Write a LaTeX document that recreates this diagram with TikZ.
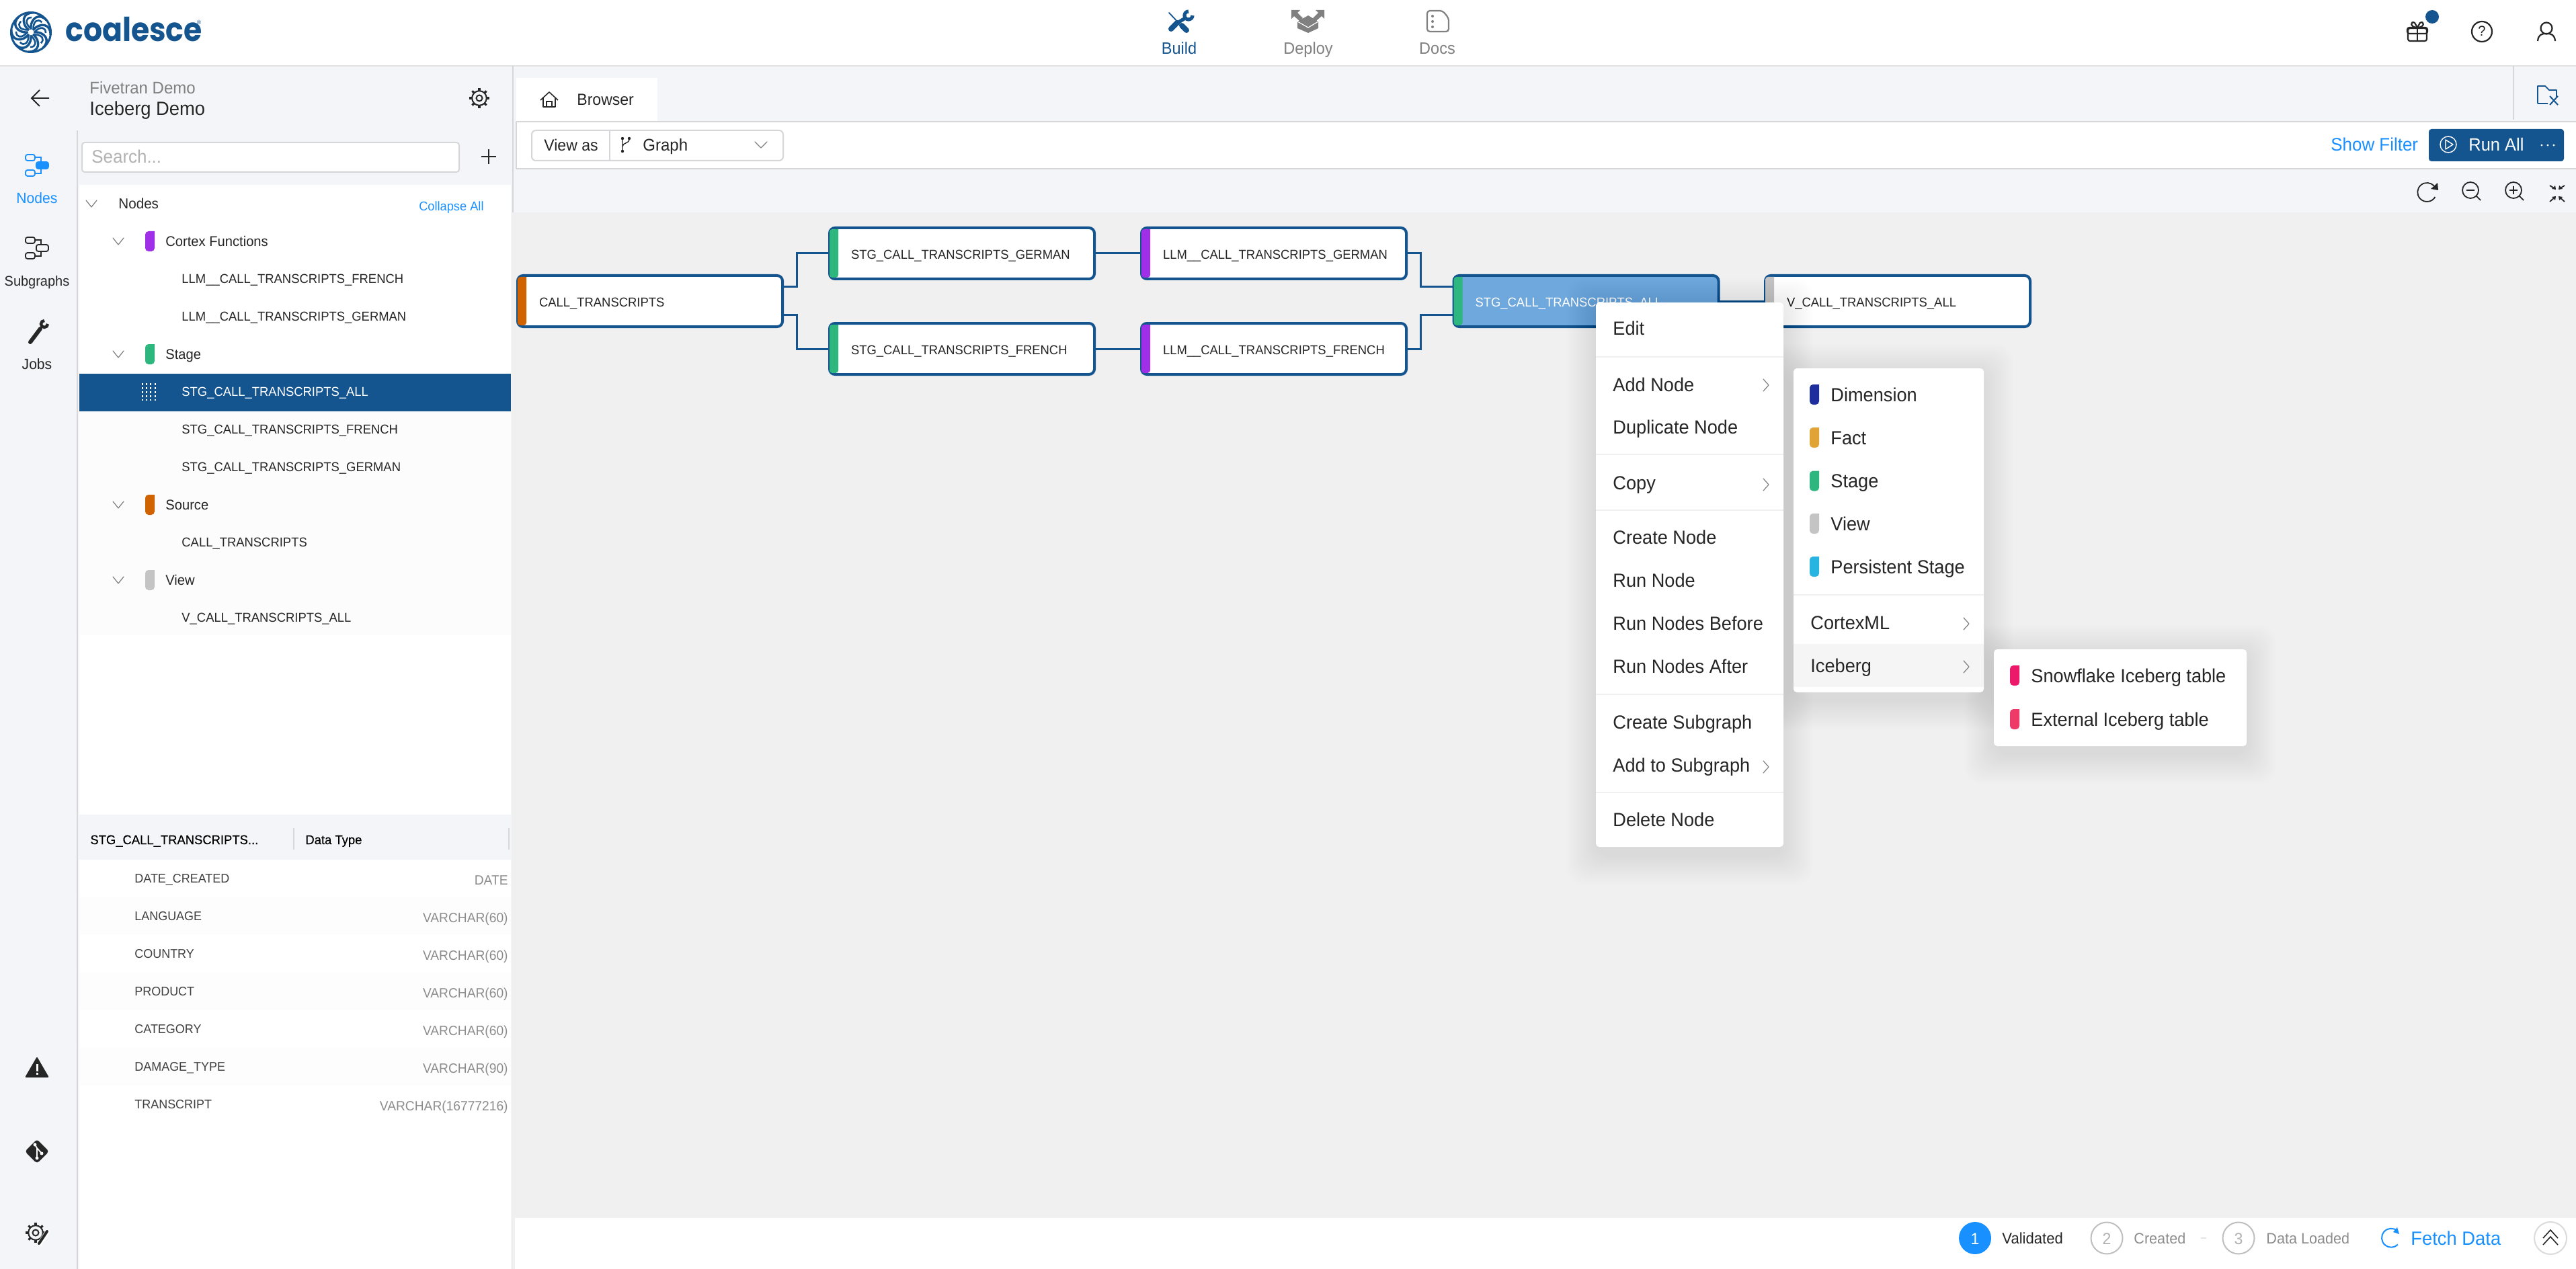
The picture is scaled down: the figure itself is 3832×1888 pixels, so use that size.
\documentclass[tikz,border=0pt]{standalone}
\usepackage{fontspec}
\setmainfont[FakeStretch=0.96]{Liberation Sans}
\newfontfamily\logofont[FakeStretch=0.9]{Poppins}
\usetikzlibrary{calc}
\definecolor{cblue}{HTML}{14548F}
\definecolor{lblue}{HTML}{1890FF}
\definecolor{panel}{HTML}{F4F5F9}
\definecolor{canvas}{HTML}{F0F0F0}
\definecolor{ink}{HTML}{262626}
\definecolor{midgray}{HTML}{808080}
\definecolor{typegray}{HTML}{8C8C8C}
\definecolor{rule}{HTML}{D6D6D8}
\definecolor{cgreen}{HTML}{2DB67D}
\definecolor{cpurple}{HTML}{A030E8}
\definecolor{corange}{HTML}{D16200}
\definecolor{cview}{HTML}{C4C4C4}
\definecolor{cdim}{HTML}{1E2F9D}
\definecolor{cfact}{HTML}{DFA435}
\definecolor{cpers}{HTML}{28B4E0}
\definecolor{csnow}{HTML}{EC1869}
\definecolor{cext}{HTML}{EE3A68}
\definecolor{selnode}{HTML}{6FA8DC}
\tikzset{
  gnode/.style={draw=cblue,line width=2pt,rounded corners=4pt,fill=white,outer sep=0pt,
    minimum width=197pt,minimum height=38pt,inner xsep=16pt,inner ysep=0pt,text width=165pt,align=left,
    text height=8.4pt,text depth=0pt,
    font=\fontsize{9.6}{11}\selectfont,text=ink},
  wire/.style={draw=cblue,line width=1.5pt},
  icon/.style={draw=ink,line width=1.1pt,line cap=round,line join=round,fill=none},
  chev/.style={draw=midgray,line width=.6pt,line cap=round,line join=round},
  sepline/.style={draw=canvas,line width=1.2pt},
  menu/.style={fill=white,rounded corners=2.5pt},
}
% anchor, name, x, y(mid cap), size px, colour, text
\newcommand\tx[7]{%
  \pgfmathsetmacro\fsz{#5/2}%
  \pgfmathsetmacro\ybase{#4+0.358*#5+2}%
  \node[anchor=#1,inner sep=0pt,text=#6,font=\fontsize{\fsz}{\fsz}\selectfont] (#2) at (#3,\ybase) {#7};}
\newcommand\tl[6]{\tx{base west}{#1}{#2}{#3}{#4}{#5}{#6}}
\newcommand\tc[6]{\tx{base}{#1}{#2}{#3}{#4}{#5}{#6}}
\newcommand\tr[6]{\tx{base east}{#1}{#2}{#3}{#4}{#5}{#6}}
% left rounded colour bar: colour, x, y centre, half height
\newcommand\sbar[4]{\fill[#1,rounded corners=2.5pt] ({#2+14},{#3-#4}) -- (#2,{#3-#4}) -- (#2,{#3+#4}) -- ({#2+14},{#3+#4}) [sharp corners] -- cycle;}
\newcommand\downchev[2]{\draw[chev] ({#1-8},{#2-5}) -- (#1,{#2+5}) -- ({#1+8},{#2-5});}
\newcommand\rightchev[2]{\draw[chev] ({#1-4},{#2-9}) -- ({#1+4},#2) -- ({#1-4},{#2+9});}
\newcommand\softshadow[4]{\foreach \d in {2,4,...,44}{\fill[black,opacity=.0035,rounded corners=12pt] ({#1-\d},{#2-\d+8}) rectangle ({#3+\d},{#4+\d+12});}}
\newcommand\hier[4]{%
  \begin{scope}[shift={(#1,#2)}]
  \draw[#3,line width=.9pt,rounded corners=1.5pt] (-17,-16) rectangle (-3,-7);
  \draw[#3,line width=.9pt,rounded corners=1.5pt] (-17,7) rectangle (-3,16);
  \draw[#3,line width=.9pt,rounded corners=1.5pt,fill=#4] (-1,-5) rectangle (17,5);
  \draw[#3,line width=.9pt] (-3,-12) -- (6,-12) -- (6,-5) (-3,12) -- (6,12) -- (6,5);
  \end{scope}}
\newcommand\gearicon[4]{%
  \foreach \a in {0,45,...,315}{\draw[#4,line width=1.6pt] ($(#1,#2)+(\a:#3)$) -- ($(#1,#2)+(\a:{#3*.72})$);}
  \draw[#4,line width=1pt] (#1,#2) circle[radius={#3*.72}];
  \draw[#4,line width=1pt] (#1,#2) circle[radius={#3*.3}];}
\begin{document}
\begin{tikzpicture}[x=.5pt,y=-.5pt]
\useasboundingbox (0,0) rectangle (3832,1888);
% --- backgrounds
\fill[panel] (0,0) rectangle (3832,1888);
\fill[white] (0,0) rectangle (3832,98);
\draw[rule!70,line width=1pt] (0,98.5) -- (3832,98.5);
\fill[canvas] (761,316) rectangle (3832,1812);
\fill[white] (766,1812) rectangle (3832,1888);
\fill[canvas] (761,1812) rectangle (766,1888);
\fill[panel] (766,100) rectangle (3832,180);
\fill[white] (768,181) rectangle (3832,250);
\draw[rule,line width=1pt] (768,181) -- (3832,181);
\draw[rule,line width=1pt] (768,251) -- (3832,251);
\draw[rule,line width=1pt] (768,181) -- (768,251);
\fill[panel] (768,252) rectangle (3832,316);
\draw[rule,line width=1pt] (763,98) -- (763,316);
\draw[rule,line width=1pt] (3739,98) -- (3739,178);
\draw[rule,line width=1pt] (115,194) -- (115,1888);
% --- left panel whites
\fill[white] (118,275) rectangle (760,1888);
\fill[black!1] (118,612) rectangle (760,945);
\fill[panel] (118,1212) rectangle (760,1279);
\foreach \ya in {1335,1447,1559}{\fill[black!.7] (118,\ya) rectangle (760,{\ya+56});}
\fill[cblue] (118,556) rectangle (760,612);
% --- header
\begin{scope}[shift={(46,48)}]
  \draw[cblue,line width=1.5pt] (0,0) circle[radius=29.5];
  \foreach \a in {0,45,...,315}{
    \draw[cblue,line width=1.7pt,rotate=\a] (3,-3) .. controls (14,-16) and (30,-12) .. (29,4);
    \draw[cblue,line width=1.3pt,rotate=\a] (6,-1) .. controls (14,-9) and (22,-8) .. (22,1);
  }
\end{scope}
\node[anchor=base west,inner sep=0pt,text=cblue,font=\logofont\fontsize{24.5}{24.5}\selectfont\bfseries] (logotext) at (97,62) {coalesce};
\tc{regmark}{296}{31}{9}{cblue}{®}
% nav
\draw[cblue,line width=.9pt,line cap=round] (1739,19) -- (1756,37);
\draw[cblue,line width=4pt,line cap=round] (1758,38) -- (1765,45);
\draw[cblue,line width=4pt,line cap=round] (1742,43) -- (1751,34);
\draw[cblue,line width=2.6pt] (1750,35) -- (1763,27);
\draw[cblue,line width=2.6pt] (1774,23) arc[start angle=0,end angle=270,radius=6];
\tc{nbuild}{1754}{70}{24.5}{cblue}{Build}
\fill[midgray] (1946,23) -- (1961,32) -- (1961,42) -- (1946,49) -- (1930,42) -- (1930,32) -- cycle;
\draw[white,line width=.6pt] (1930,32) -- (1946,41) -- (1961,32);
\fill[midgray] (1921,15) -- (1934,15) -- (1930,19) -- (1938,27) -- (1933,31) -- (1925,24) -- (1921,28) -- cycle;
\fill[midgray] (1970,15) -- (1957,15) -- (1961,19) -- (1953,27) -- (1958,31) -- (1966,24) -- (1970,28) -- cycle;
\tc{ndeploy}{1946}{70}{24.5}{midgray}{Deploy}
\draw[midgray,line width=1.1pt,rounded corners=2pt] (2123,16) -- (2146,16) -- (2155,27) -- (2155,47) -- (2123,47) -- cycle;
\foreach \dy in {24,32,40}{\fill[midgray] (2131,\dy) circle[radius=2];}
\tc{ndocs}{2138}{70}{24.5}{midgray}{Docs}
% top right
\draw[ink,line width=1.1pt,rounded corners=1.5pt] (3582,42) rectangle (3610,61);
\draw[ink,line width=1.1pt,rounded corners=1.5pt] (3581,41) rectangle (3611,50);
\draw[ink,line width=1.1pt] (3596,41) -- (3596,61);
\draw[ink,line width=1.1pt] (3596,41) .. controls (3584,41) and (3586,30) .. (3592,34) -- (3596,41) .. controls (3608,41) and (3606,30) .. (3600,34) -- (3596,41);
\fill[cblue] (3618,25) circle[radius=10];
\draw[ink,line width=1.1pt] (3692,47) circle[radius=15];
\tc{helpq}{3692}{44}{21}{ink}{?}
\draw[ink,line width=1.1pt] (3788,42) circle[radius=8.5];
\draw[ink,line width=1.1pt] (3775,61) .. controls (3776,52) and (3780,50) .. (3788,50) .. controls (3796,50) and (3800,52) .. (3801,61);
% --- project header
\draw[ink,line width=.9pt] (73,146) -- (47,146) (59,134) -- (47,146) -- (59,158);
\tl{proj1}{133}{129}{25}{midgray}{Fivetran Demo}
\tl{proj2}{133}{159}{28.5}{ink}{Iceberg Demo}
\gearicon{713}{146}{15}{ink}
% --- rail
\hier{55}{246}{lblue}{lblue}
\tc{rnodes}{55}{293}{22}{lblue}{Nodes}
\hier{55}{369}{ink}{none}
\tc{rsub}{55}{416}{20.8}{ink}{Subgraphs}
\draw[ink,line width=3pt,line cap=round] (45,509) -- (60,489);
\draw[ink,line width=2.2pt] (71,482) arc[start angle=0,end angle=270,radius=5];
\tc{rjobs}{55}{540}{22}{ink}{Jobs}
\fill[ink,rounded corners=1pt] (55,1572) -- (73,1603) -- (37,1603) -- cycle;
\fill[white] (53.5,1583) rectangle (56.5,1594);
\fill[white] (53.5,1596) rectangle (56.5,1599);
\fill[ink,rounded corners=2pt] (55,1695) -- (73,1713) -- (55,1731) -- (37,1713) -- cycle;
\draw[white,line width=.9pt] (52,1703) -- (55,1708) -- (55,1724) (55,1708) -- (62,1716);
\fill[white] (55,1723) circle[radius=2.5] (62,1716) circle[radius=2.5] (52,1703) circle[radius=2.5];
\gearicon{53}{1834}{15}{ink}
\draw[white,line width=3.5pt] (58,1852) -- (72,1830);
\draw[ink,line width=2pt,line cap=round] (58,1850) -- (70,1832);
% --- search & tree
\draw[rule,fill=white,line width=1pt,rounded corners=2pt] (122,212) rectangle (683,256);
\tl{search}{136}{231}{27}{black!30}{Search...}
\draw[ink,line width=.6pt] (716,233) -- (738,233) (727,222) -- (727,244);
\downchev{136}{303}
\tl{tnodes}{176}{301}{21.5}{ink}{Nodes}
\tr{tcollapse}{720}{305}{19}{lblue}{Collapse All}
\foreach \n/\x/\y/\t in {
  c1/270/413/{LLM\_\_CALL\_TRANSCRIPTS\_FRENCH},
  c2/270/469/{LLM\_\_CALL\_TRANSCRIPTS\_GERMAN},
  c3/270/637/{STG\_CALL\_TRANSCRIPTS\_FRENCH},
  c4/270/693/{STG\_CALL\_TRANSCRIPTS\_GERMAN},
  c5/270/805/{CALL\_TRANSCRIPTS},
  c6/270/917/{V\_CALL\_TRANSCRIPTS\_ALL}}
  {\tl{\n}{\x}{\y}{19.2}{ink}{\t}}
\tl{c7}{270}{581}{19.2}{white}{STG\_CALL\_TRANSCRIPTS\_ALL}
\foreach \dx in {212,218,224,231}{\draw[white,line width=.8pt,dash pattern=on 1.5pt off 1.5pt] (\dx,570) -- (\dx,596);}
\foreach \n/\y/\col/\t in {g1/359/cpurple/Cortex Functions,g2/527/cgreen/Stage,g3/751/corange/Source,g4/863/cview/View}{
  \downchev{176}{\y}
  \sbar{\col}{216}{\y}{15}
  \tl{\n}{246}{\y-2}{21}{ink}{\t}
}
% --- column table
\node[anchor=base west,inner sep=0pt,text=black,font=\fontsize{9.6}{10}\selectfont\addfontfeature{FakeBold=0.3}] (thead1) at (134,1256) {STG\_CALL\_TRANSCRIPTS...};
\node[anchor=base west,inner sep=0pt,text=black,font=\fontsize{9.6}{10}\selectfont\addfontfeature{FakeBold=0.3}] (thead2) at (454,1256) {Data Type};
\draw[rule,line width=1pt] (437,1232) -- (437,1264) (757,1232) -- (757,1264);
\foreach \n/\y/\a/\b in {
  r1/1305/{DATE\_CREATED}/DATE,
  r2/1361/LANGUAGE/VARCHAR(60),
  r3/1417/COUNTRY/VARCHAR(60),
  r4/1473/PRODUCT/VARCHAR(60),
  r5/1529/CATEGORY/VARCHAR(60),
  r6/1585/{DAMAGE\_TYPE}/VARCHAR(90),
  r7/1641/TRANSCRIPT/VARCHAR(16777216)}{
  \tl{\n a}{200}{\y}{18.7}{black!75}{\a}
  \tr{\n b}{756}{\y+2}{20}{typegray}{\b}
}
% --- tab & toolbar
\fill[white] (768,116) rectangle (978,180);
\draw[ink,line width=.8pt,line join=round] (804,149) -- (817,137) -- (830,149) (808,146) -- (808,159) -- (826,159) -- (826,146);
\draw[ink,line width=.8pt] (813,159) -- (813,151) -- (821,151) -- (821,159);
\tl{tabb}{858}{146}{24}{ink}{Browser}
\draw[rule,line width=1pt,rounded corners=3pt] (791,194) rectangle (1165,239);
\draw[rule,line width=1pt] (907,194) -- (907,239);
\tl{viewas}{809}{214}{24}{ink}{View as}
\draw[ink,line width=.7pt] (926,207) -- (926,224) (926,218) .. controls (926,212) and (936,214) .. (936,207);
\fill[ink] (926,206) circle[radius=2.2] (926,225) circle[radius=2.2] (936,206) circle[radius=2.2];
\tl{graphlbl}{956}{214}{25}{ink}{Graph}
\draw[chev] (1123,211) -- (1132,220) -- (1141,211);
\tl{showf}{3467}{213}{27}{lblue}{Show Filter}
\fill[cblue,rounded corners=2pt] (3613,192) rectangle (3814,240);
\draw[white,line width=.7pt] (3642,215) circle[radius=12];
\draw[white,line width=.7pt,line join=round] (3638,208) -- (3649,215) -- (3638,222) -- cycle;
\tl{runall}{3672}{213}{26.5}{white}{Run All}
\foreach \dx in {3781,3790,3799}{\fill[white] (\dx,216) circle[radius=1.6];}
\draw[cblue,line width=.9pt,line join=round] (3775,154) -- (3775,128) -- (3786,128) -- (3792,134) -- (3803,134) -- (3803,144) (3775,154) -- (3790,154);
\draw[cblue,line width=1pt] (3793,143) -- (3805,156) (3805,143) -- (3793,156);
% canvas toolbar
\draw[ink,line width=.9pt] (3621,277) arc[start angle=-40,end angle=-330,radius=14];
\fill[ink] (3626,272) -- (3627,283) -- (3616,281) -- cycle;
\draw[ink,line width=.9pt] (3675,283) circle[radius=12] (3684,292) -- (3690,298) (3669,283) -- (3681,283);
\draw[ink,line width=.9pt] (3739,283) circle[radius=12] (3748,292) -- (3754,298) (3733,283) -- (3745,283) (3739,277) -- (3739,289);
\draw[ink,line width=.9pt] (3793,276) -- (3801,281) (3815,276) -- (3807,281) (3793,300) -- (3801,293) (3815,300) -- (3807,293);
\fill[ink] (3802,282) -- (3796,281) -- (3801,276) -- cycle (3806,282) -- (3812,281) -- (3807,276) -- cycle (3802,292) -- (3796,293) -- (3801,298) -- cycle (3806,292) -- (3812,293) -- (3807,298) -- cycle;
% --- graph
\node[gnode] (call) at (967,448) {CALL\_TRANSCRIPTS};
\node[gnode] (stgg) at (1431,377) {STG\_CALL\_TRANSCRIPTS\_GERMAN};
\node[gnode] (stgf) at (1431,519) {STG\_CALL\_TRANSCRIPTS\_FRENCH};
\node[gnode] (llmg) at (1895,377) {LLM\_\_CALL\_TRANSCRIPTS\_GERMAN};
\node[gnode] (llmf) at (1895,519) {LLM\_\_CALL\_TRANSCRIPTS\_FRENCH};
\node[gnode,fill=selnode,text=white] (stga) at (2359.5,448) {STG\_CALL\_TRANSCRIPTS\_ALL};
\node[gnode] (vall) at (2823,448) {V\_CALL\_TRANSCRIPTS\_ALL};
\draw[wire] ([yshift=10.5pt]call.east) -- ++(21,0) |- (stgg.west);
\draw[wire] ([yshift=-10pt]call.east) -- ++(21,0) |- (stgf.west);
\draw[wire] (stgg) -- (llmg);
\draw[wire] (stgf) -- (llmf);
\draw[wire] (llmg.east) -- ++(21,0) |- ([yshift=10.5pt]stga.west);
\draw[wire] (llmf.east) -- ++(21,0) |- ([yshift=-10pt]stga.west);
\draw[wire] (stga) -- (vall);
\foreach \nn/\col in {call/corange,stgg/cgreen,stgf/cgreen,llmg/cpurple,llmf/cpurple,stga/cgreen,vall/cview}{
  \fill[\col,rounded corners=2pt] ($(\nn.north west)+(13,2)$) -- ($(\nn.north west)+(0,2)$) -- ($(\nn.south west)+(0,-2)$) -- ($(\nn.south west)+(13,-2)$) [sharp corners] -- cycle;
}
% --- menus
\softshadow{2374}{450}{2653}{1260}
\softshadow{2668}{548}{2951}{1030}
\softshadow{2966}{966}{3342}{1110}
\fill[menu] (2374,450) rectangle (2653,1260);
\fill[menu] (2668,548) rectangle (2951,1030);
\fill[menu] (2966,966) rectangle (3342,1110);
\foreach \y in {531,676,759,1033,1179}{\draw[sepline] (2374,\y) -- (2653,\y);}
\foreach \n/\y/\t in {m1/488/Edit,m2/572/Add Node,m3/635/Duplicate Node,m4/718/Copy,m5/799/Create Node,m6/863/Run Node,m7/927/Run Nodes Before,m8/991/Run Nodes After,m9/1074/Create Subgraph,m10/1138/Add to Subgraph,m11/1219/Delete Node}
  {\tl{\n}{2399}{\y-2}{28.3}{ink}{\t}}
\foreach \y in {573,721,1141}{\rightchev{2627}{\y}}
\foreach \n/\y/\col/\t in {d1/587/cdim/Dimension,d2/651/cfact/Fact,d3/715.5/cgreen/Stage,d4/779/cview/View,d5/843/cpers/Persistent Stage}{
  \sbar{\col}{2692}{\y}{15}
  \tl{\n}{2723}{\y-2}{28.3}{ink}{\t}
}
\draw[sepline] (2668,885) -- (2951,885);
\fill[black!4] (2668,958) rectangle (2951,1022);
\tl{d6}{2693}{924}{28.3}{ink}{CortexML}
\tl{d7}{2693}{988}{28.3}{ink}{Iceberg}
\rightchev{2925}{928}
\rightchev{2925}{992}
\sbar{csnow}{2990}{1005}{15}
\tl{e1}{3021}{1003}{28.3}{ink}{Snowflake Iceberg table}
\sbar{cext}{2990}{1070}{15}
\tl{e2}{3021}{1068}{28.3}{ink}{External Iceberg table}
% --- bottom bar
\fill[lblue] (2938,1842) circle[radius=24];
\tc{b1}{2938}{1841}{24}{white}{1}
\tl{bv}{2978}{1840}{23}{ink}{Validated}
\draw[black!25,line width=1pt] (3134,1842) circle[radius=23.5];
\tc{b2}{3134}{1841}{24}{black!30}{2}
\tl{bc}{3174}{1840}{22.5}{typegray}{Created}
\draw[black!10,line width=1pt] (3274,1842) -- (3282,1842);
\draw[black!25,line width=1pt] (3330,1842) circle[radius=23.5];
\tc{b3}{3330}{1841}{24}{black!30}{3}
\tl{bd}{3371}{1840}{22.5}{typegray}{Data Loaded}
\draw[lblue,line width=1pt] (3566,1831) arc[start angle=-50,end angle=-315,radius=14];
\fill[lblue] (3566,1826) -- (3569,1836) -- (3560,1833) -- cycle;
\tl{bf}{3586}{1840}{28.5}{lblue}{Fetch Data}
\draw[black!14,fill=white,line width=1pt] (3794,1842) circle[radius=24];
\draw[ink,line width=.8pt] (3783,1842) -- (3794,1830) -- (3805,1842) (3783,1852) -- (3794,1840) -- (3805,1852);
\end{tikzpicture}
\end{document}
